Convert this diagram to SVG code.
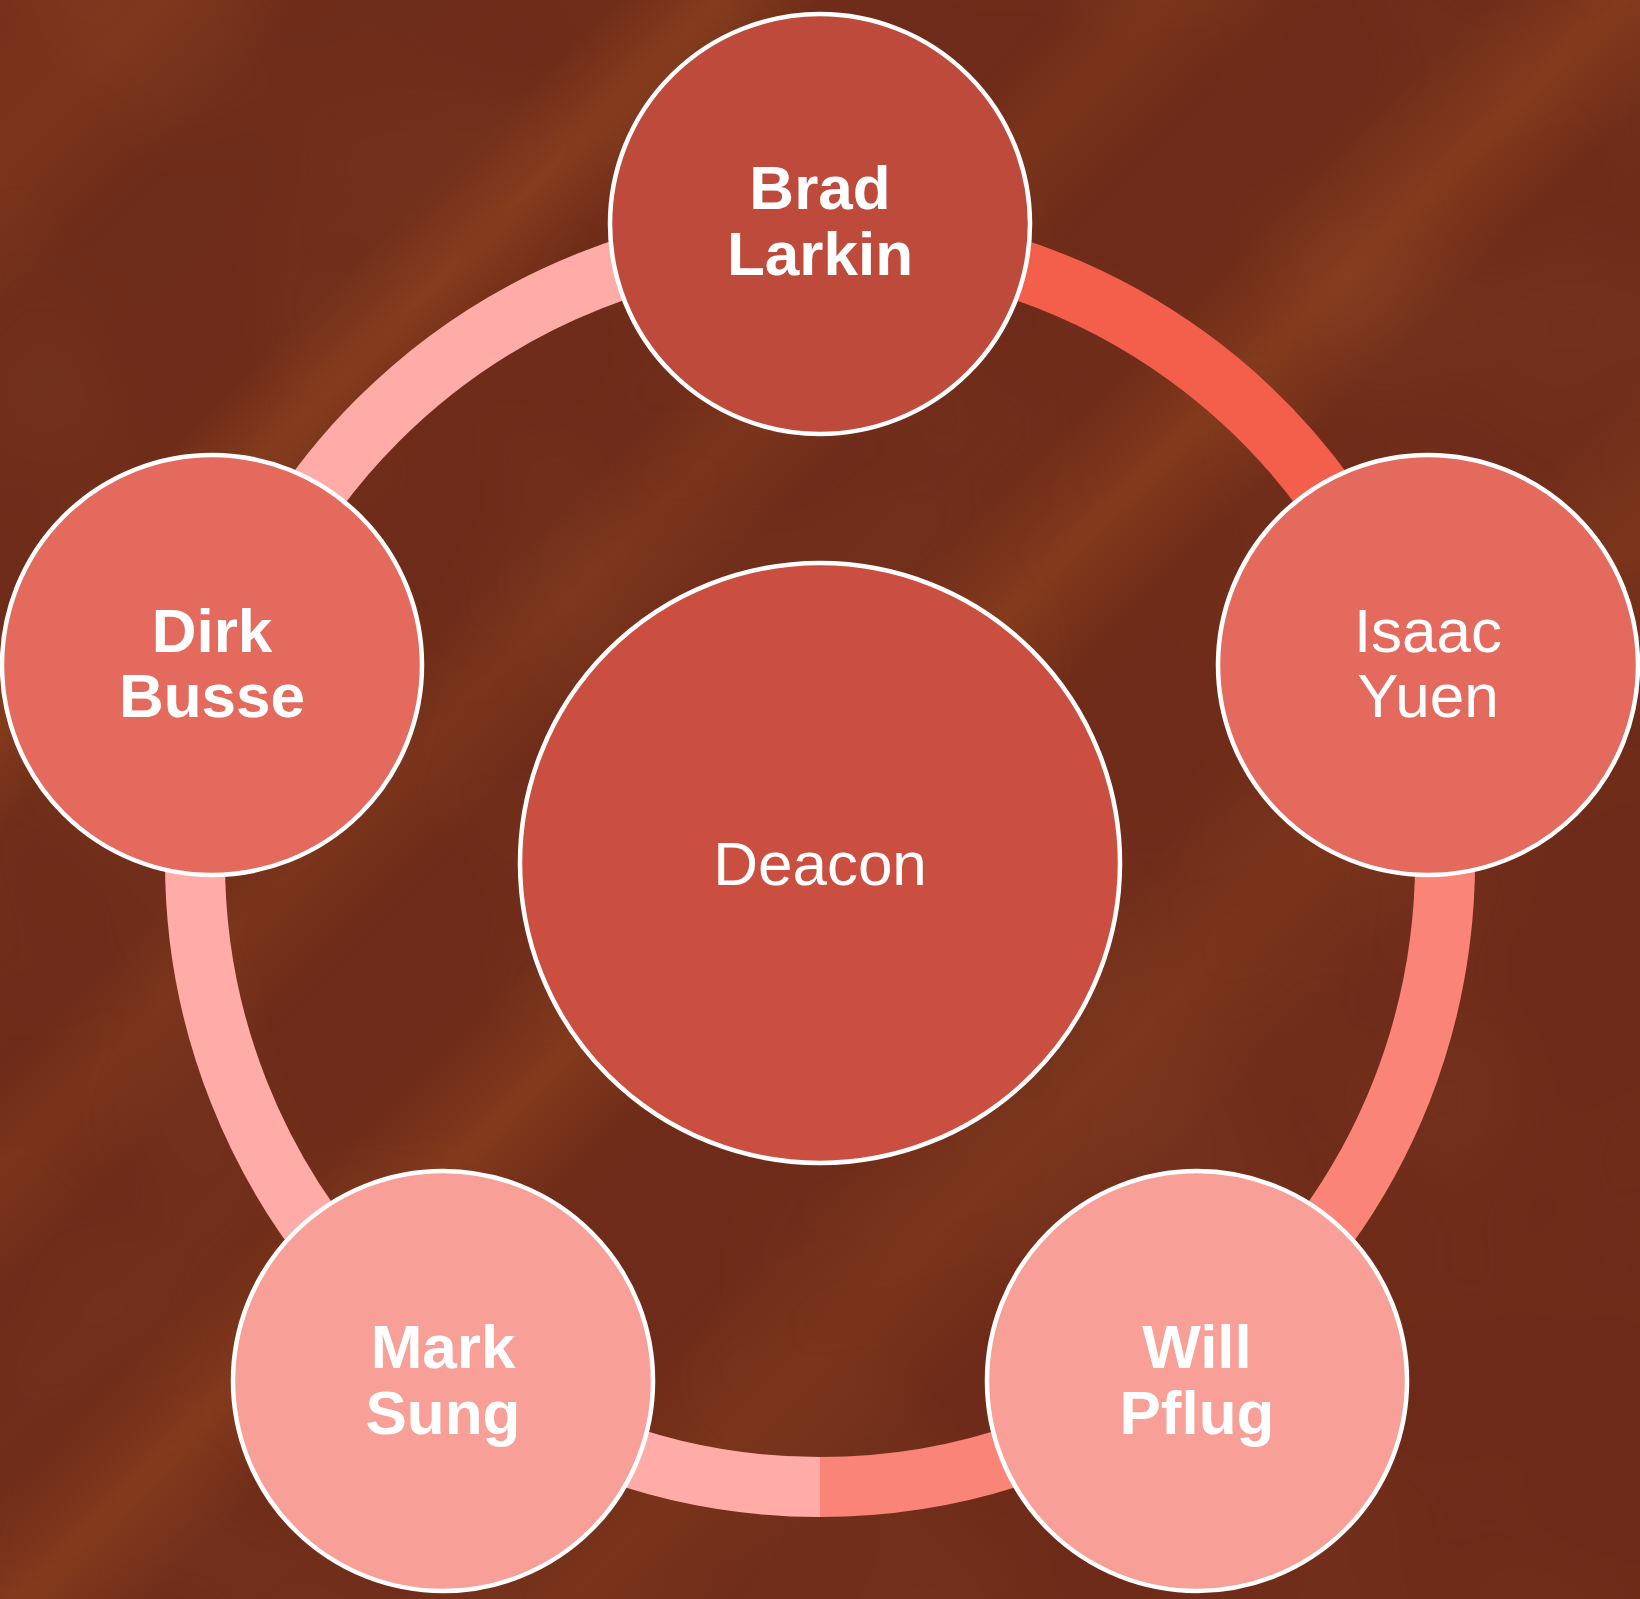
<svg xmlns="http://www.w3.org/2000/svg" width="1640" height="1599" viewBox="0 0 1640 1599">
  <defs>
    <linearGradient id="bg" gradientUnits="userSpaceOnUse" x1="0" y1="0" x2="1620" y2="1620">
      <stop offset="0" stop-color="#76301a"/>
      <stop offset="0.05" stop-color="#7c351b"/>
      <stop offset="0.1" stop-color="#6d2b19"/>
      <stop offset="0.19" stop-color="#6f2c19"/>
      <stop offset="0.222" stop-color="#843b1c"/>
      <stop offset="0.255" stop-color="#6f2c19"/>
      <stop offset="0.33" stop-color="#6e2b19"/>
      <stop offset="0.36" stop-color="#7a341b"/>
      <stop offset="0.40" stop-color="#6e2b19"/>
      <stop offset="0.46" stop-color="#6f2c19"/>
      <stop offset="0.50" stop-color="#833a1c"/>
      <stop offset="0.54" stop-color="#6f2c19"/>
      <stop offset="0.62" stop-color="#6e2b19"/>
      <stop offset="0.67" stop-color="#7a341b"/>
      <stop offset="0.72" stop-color="#6e2b19"/>
      <stop offset="1" stop-color="#6d2a18"/>
    </linearGradient>
    <filter id="grain" x="0" y="0" width="100%" height="100%">
      <feTurbulence type="fractalNoise" baseFrequency="0.004" numOctaves="2" seed="7"/>
      <feColorMatrix type="matrix" values="0 0 0 0 0.55  0 0 0 0 0.25  0 0 0 0 0.1  0 0 0 0.45 -0.17"/>
    </filter>
  </defs>
  <style>
    .ring { fill: none; stroke-width: 60; stroke-linecap: butt; }
    .node { stroke: #ffffff; stroke-width: 4.5; }
    .lbl { font-family: "Liberation Sans", Arial, Helvetica, sans-serif; font-size: 62px; fill: #ffffff; text-anchor: middle; }
    .b { font-weight: bold; }
  </style>

  <rect x="0" y="0" width="1640" height="1599" fill="url(#bg)"/>
  <rect x="0" y="0" width="1640" height="1599" filter="url(#grain)" opacity="0.3"/>

  <g id="connectors">
    <path class="ring" stroke="#f45f4c" d="M 820 237 A 625 625 0 0 1 1414.4 668.9"/>
    <path class="ring" stroke="#fa8478" d="M 1414.4 668.9 A 625 625 0 0 1 820 1487"/>
    <path class="ring" stroke="#ffaca8" d="M 820 1487 A 625 625 0 0 1 195 862 A 625 625 0 0 1 820 237"/>
  </g>

  <g id="node-deacon">
    <circle class="node" cx="820" cy="863" r="300" fill="#cb4f40"/>
    <text class="lbl" x="820" y="885">Deacon</text>
  </g>

  <g id="node-brad">
    <circle class="node" cx="820" cy="224" r="210" fill="#bd4a3a"/>
    <text class="lbl b" x="820" y="209">Brad</text>
    <text class="lbl b" x="820" y="275">Larkin</text>
  </g>

  <g id="node-isaac">
    <circle class="node" cx="1428" cy="665" r="210" fill="#e46a5d"/>
    <text class="lbl" x="1428" y="652">Isaac</text>
    <text class="lbl" x="1428" y="717">Yuen</text>
  </g>

  <g id="node-will">
    <circle class="node" cx="1197" cy="1381" r="210" fill="#f89f97"/>
    <text class="lbl b" x="1197" y="1368">Will</text>
    <text class="lbl b" x="1197" y="1434">Pflug</text>
  </g>

  <g id="node-mark">
    <circle class="node" cx="443" cy="1381" r="210" fill="#f89f97"/>
    <text class="lbl b" x="443" y="1368">Mark</text>
    <text class="lbl b" x="443" y="1434">Sung</text>
  </g>

  <g id="node-dirk">
    <circle class="node" cx="212" cy="665" r="210" fill="#e46a5d"/>
    <text class="lbl b" x="212" y="652">Dirk</text>
    <text class="lbl b" x="212" y="717">Busse</text>
  </g>
</svg>
